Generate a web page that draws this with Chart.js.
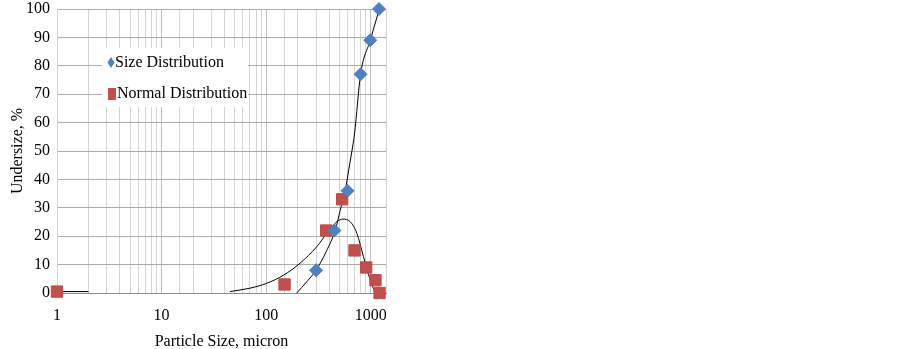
<!DOCTYPE html>
<html>
<head>
<meta charset="utf-8">
<script src="https://cdn.jsdelivr.net/npm/chart.js@4/dist/chart.umd.min.js"></script>
<style>
  html, body { margin: 0; padding: 0; background: #fff; }
  #wrap { position: relative; width: 400px; height: 349px; }
</style>
</head>
<body>
<div id="wrap"><canvas id="psd"></canvas></div>
<script>
// measured points
var sizeX = [300, 450, 600, 800, 990, 1200];
var sizeY = [8, 22, 36, 77, 89, 100];
var normX = [1, 150, 375, 533, 700, 905, 1110, 1215];
var normY = [0.5, 3, 22, 33, 15, 9, 4.5, 0];

// trend lines
var cumFitX = [196, 245, 300, 380, 457, 510, 570, 614, 661, 700, 800, 990, 1188];
var cumFitY = [0, 4, 8, 15, 22, 29, 36, 43, 50, 56, 77, 89, 99];
var bellX = [45, 70, 101, 147, 211, 305, 380, 474, 542, 637, 738, 852, 988, 1105];
var bellY = [0.5, 1.7, 3.4, 6.3, 10.5, 16.3, 21, 25.1, 26, 25.1, 21, 12.8, 4.6, 0];
var flatX = [1, 2];
var flatY = [0.5, 0.5];

var decades = [1, 10, 100, 1000];

function pts(xs, ys) {
    return xs.map(function (x, i) { return { x: x, y: ys[i] }; });
}

var serif = "'Liberation Serif', 'Times New Roman', serif";

function fitLine(xs, ys) {
    return {
        type: "line",
        data: pts(xs, ys),
        borderColor: "#000",
        borderWidth: 1,
        pointRadius: 0,
        cubicInterpolationMode: "monotone",
        fill: false,
        order: 2
    };
}

// legend sitting inside the plot
var boxLegend = {
    id: "boxLegend",
    afterDraw: function (chart) {
        var c = chart.ctx;
        c.save();
        c.fillStyle = "#fff";
        c.fillRect(102, 48, 146, 59);
        c.font = "16px " + serif;
        c.textBaseline = "middle";
        c.textAlign = "left";

        c.fillStyle = "#4F81BD";
        c.beginPath();
        c.moveTo(111, 57);
        c.lineTo(114.5, 62.5);
        c.lineTo(111, 68);
        c.lineTo(107.5, 62.5);
        c.closePath();
        c.fill();
        c.fillStyle = "#000";
        c.fillText(chart.data.datasets[0].label, 115, 63);

        c.fillStyle = "#C0504D";
        c.fillRect(108, 88, 8, 12);
        c.fillStyle = "#000";
        c.fillText(chart.data.datasets[1].label, 117, 94);
        c.restore();
    }
};

var ctx = document.getElementById("psd");
var chart = new Chart(ctx, {
    type: "scatter",
    data: {
        datasets: [
            {
                label: "Size Distribution",
                data: pts(sizeX, sizeY),
                pointStyle: "rectRot",
                pointRadius: 6.5,
                backgroundColor: "#4F81BD",
                borderColor: "#4A7EBB",
                borderWidth: 1,
                clip: false,
                order: 1
            },
            {
                label: "Normal Distribution",
                data: pts(normX, normY),
                pointStyle: "rect",
                pointRadius: 8,
                backgroundColor: "#C0504D",
                borderColor: "#BE4B48",
                borderWidth: 1,
                clip: false,
                order: 1
            },
            fitLine(cumFitX, cumFitY),
            fitLine(bellX, bellY),
            fitLine(flatX, flatY)
        ]
    },
    options: {
        responsive: true,
        maintainAspectRatio: false,
        animation: false,
        layout: { padding: { left: 0, right: 14, top: 9, bottom: 0 } },
        plugins: {
            legend: { display: false },
            tooltip: { enabled: false }
        },
        scales: {
            x: {
                type: "logarithmic",
                min: 1,
                max: 1400,
                afterFit: function (s) {
                    s.height = 56;
                    s.paddingLeft = 0;
                    s.paddingRight = 0;
                },
                grid: {
                    drawTicks: false,
                    color: function (c) {
                        var v = c.tick && c.tick.value;
                        return decades.indexOf(v) >= 0 ? "#BDBDBD" : "#D4D4D4";
                    }
                },
                border: { color: "#8C8C8C" },
                ticks: {
                    autoSkip: false,
                    maxRotation: 0,
                    padding: 13,
                    color: "#000",
                    font: { family: serif, size: 16 },
                    callback: function (v) {
                        return decades.indexOf(v) >= 0 ? String(v) : "";
                    }
                },
                title: {
                    display: true,
                    text: "Particle Size, micron",
                    color: "#000",
                    font: { family: serif, size: 16 },
                    padding: { top: 0, bottom: -2 }
                }
            },
            y: {
                min: 0,
                max: 100,
                afterFit: function (s) {
                    s.width = 57;
                    s.paddingTop = 0;
                    s.paddingBottom = 0;
                },
                grid: {
                    drawTicks: false,
                    color: function (c) {
                        return c.tick && c.tick.value === 0 ? "#8C8C8C" : "#ABABAB";
                    }
                },
                border: { color: "#D4D4D4" },
                ticks: {
                    stepSize: 10,
                    padding: 7,
                    color: "#000",
                    font: { family: serif, size: 16 }
                },
                title: {
                    display: true,
                    text: "Undersize, %",
                    color: "#000",
                    font: { family: serif, size: 16 },
                    padding: { top: 8, bottom: 0 }
                }
            }
        }
    },
    plugins: [boxLegend]
});
</script>
</body>
</html>
